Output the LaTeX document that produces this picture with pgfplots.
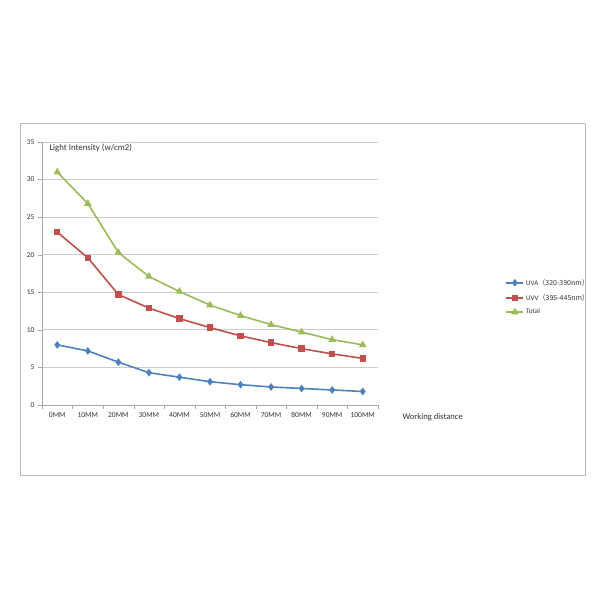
\documentclass[border=0pt]{standalone}
\usepackage{pgfplots}
\pgfplotsset{compat=1.18}
\usepackage{fontspec}
\setmainfont{Carlito}
\newfontfamily\cjk{Noto Sans CJK SC}
\definecolor{uva}{HTML}{4F81BD}
\definecolor{uvv}{HTML}{C0504D}
\definecolor{tot}{HTML}{9BBB59}
\definecolor{txt}{HTML}{333333}
\begin{document}
\begin{tikzpicture}[x=1pt,y=1pt]
\fill[white] (0,0) rectangle (600,600);
\draw[gray!55] (20,125) rectangle (585,477);
\begin{axis}[
 at={(42pt,195pt)},anchor=south west,
 scale only axis,width=336pt,height=263pt,
 xmin=-0.5,xmax=10.5,ymin=0,ymax=35,
 ytick={0,5,...,35},
 xtick={0,...,10},
 xticklabels={0MM,10MM,20MM,30MM,40MM,50MM,60MM,70MM,80MM,90MM,100MM},
 minor xtick={-0.5,0.5,...,10.5},
 axis x line=bottom,axis y line=left,
 axis line style={-,draw=gray!70},
 major x tick style={draw=none},
 minor x tick style={draw=gray!70},
 major y tick style={draw=gray!70},
 tick align=outside,
 major tick length=4pt,minor tick length=4pt,
 ymajorgrids,grid style={gray!40,line width=0.8pt},
 /pgf/number format/assume math mode=true,
 tick label style={font=\fontsize{7.5}{9}\selectfont,text=txt},
 legend style={at={(1.37,0.495)},anchor=north west,draw=none,fill=none,
  font=\fontsize{7}{8}\selectfont,text=txt,row sep=3.5pt},
 legend cell align=left,
 every axis plot/.append style={line width=1.6pt},
]
\addplot[uva,mark=diamond*,mark size=2.6pt] coordinates {
 (0,8.0) (1,7.2) (2,5.7) (3,4.3) (4,3.7) (5,3.1) (6,2.7) (7,2.4) (8,2.2) (9,2.0) (10,1.8)};
\addlegendentry{UVA\cjk{（}320-390nm\cjk{）}}
\addplot[uvv,mark=square*,mark size=2.4pt] coordinates {
 (0,23.0) (1,19.6) (2,14.7) (3,12.9) (4,11.5) (5,10.3) (6,9.2) (7,8.3) (8,7.5) (9,6.8) (10,6.2)};
\addlegendentry{UVV\cjk{（}395-445nm\cjk{）}}
\addplot[tot,mark=triangle*,mark size=2.8pt] coordinates {
 (0,31.0) (1,26.8) (2,20.3) (3,17.1) (4,15.1) (5,13.3) (6,11.9) (7,10.7) (8,9.7) (9,8.7) (10,8.0)};
\addlegendentry{Total}
\end{axis}
\node[anchor=west,font=\fontsize{8.8}{10}\selectfont,text=txt] at (46,452) {Light Intensity (w/cm2)};
\node[anchor=west,font=\fontsize{8.6}{10}\selectfont,text=txt] at (399,183) {Working distance};
\end{tikzpicture}
\end{document}
